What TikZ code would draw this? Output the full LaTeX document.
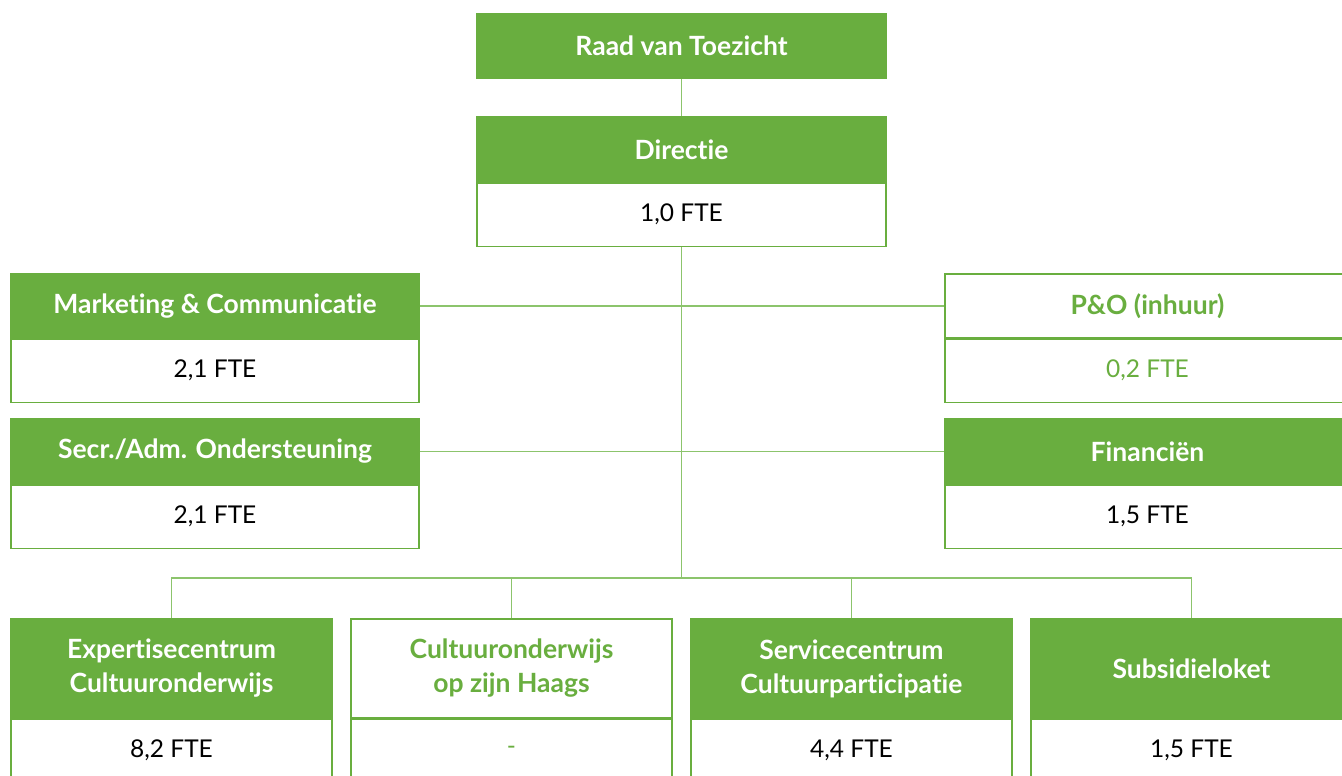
\documentclass[tikz,border=0pt]{standalone}
\usepackage{fontspec}
\setmainfont{Lato}[Ligatures={NoCommon,NoRare}]
\usepackage{tikz}
\usetikzlibrary{positioning}
\definecolor{ocgreen}{HTML}{69AE3F}
\definecolor{ocline}{HTML}{8CC46C}

\begin{document}
\begin{tikzpicture}[x=1pt,y=-1pt,
    head/.style={fill=ocgreen,draw=ocgreen,line width=1.2pt,text=white,font=\fontsize{26.5}{34}\selectfont\bfseries,align=center,inner sep=0pt,minimum height=64pt},
    openhead/.style={head,fill=white,text=ocgreen},
    fte/.style={draw=ocgreen,line width=1.2pt,fill=white,font=\fontsize{24.5}{28}\selectfont,inner sep=0pt,minimum height=63pt},
    link/.style={draw=ocline,line width=1.3pt}]
    \useasboundingbox[fill=white] (0,0) rectangle (1342,776);
    % Organogram
    \node[head,minimum width=409pt] (raad) at (681.5,46) {Raad van Toezicht};
    \node[head,minimum width=409pt,minimum height=65pt] (dir) at (681.5,149.5) {Directie};
    \node[fte,minimum width=409pt,below=0pt of dir] (dirfte) {1,0 FTE};

    \node[head,minimum width=408pt] (marc) at (215,306) {Marketing \& Communicatie};
    \node[fte,minimum width=408pt,below=0pt of marc] (marcfte) {2,1 FTE};
    \node[head,minimum width=408pt,minimum height=65pt] (secr) at (215,451.5) {Secr./Adm. Ondersteuning};
    \node[fte,minimum width=408pt,below=0pt of secr] (secrfte) {2,1 FTE};

    \node[openhead,minimum width=405pt] (po) at (1147.5,306) {P\&O (inhuur)};
    \node[fte,minimum width=405pt,text=ocgreen,below=0pt of po] (pofte) {0,2 FTE};
    \node[head,minimum width=405pt,minimum height=65pt] (fin) at (1147.5,451.5) {Financiën};
    \node[fte,minimum width=405pt,below=0pt of fin] (finfte) {1,5 FTE};

    \node[head,minimum width=321pt,minimum height=99pt] (expc) at (171.5,668.5) {Expertisecentrum\\Cultuuronderwijs};
    \node[fte,minimum width=321pt,below=0pt of expc] (expcfte) {8,2 FTE};
    \node[openhead,minimum width=321pt,minimum height=99pt] (cuoz) at (511.5,668.5) {Cultuuronderwijs\\op zijn Haags};
    \node[fte,minimum width=321pt,text=ocgreen,below=0pt of cuoz] (cuozfte) {-};
    \node[head,minimum width=321pt,minimum height=99pt] (svc) at (851.5,668.5) {Servicecentrum\\Cultuurparticipatie};
    \node[fte,minimum width=321pt,below=0pt of svc] (svcfte) {4,4 FTE};
    \node[head,minimum width=321pt,minimum height=99pt] (subs) at (1191.5,668.5) {Subsidieloket};
    \node[fte,minimum width=321pt,below=0pt of subs] (subsfte) {1,5 FTE};

    \coordinate (bus) at (681.5,578);
    \path[link] (raad) -- (dir);
    \path[link] (dirfte) -- (bus);
    \path[link] (marc) -- (po);
    \path[link] (secr) -- (fin);
    \path[link] (expc.north) |- (bus) -| (subs.north);
    \path[link] (cuoz.north) -- (cuoz.north |- bus);
    \path[link] (svc.north) -- (svc.north |- bus);
\end{tikzpicture}
\end{document}
